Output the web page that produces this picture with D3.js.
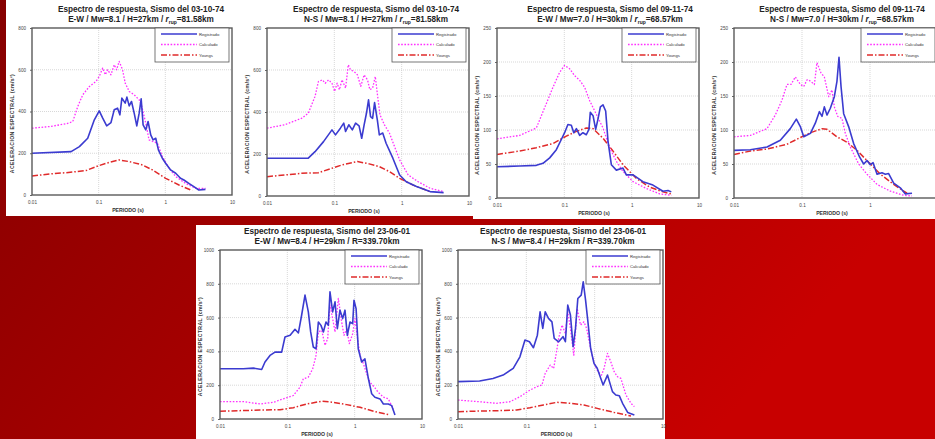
<!DOCTYPE html>
<html>
<head>
<meta charset="utf-8">
<script src="https://cdnjs.cloudflare.com/ajax/libs/d3/7.8.5/d3.min.js"></script>
<style>
html, body { margin: 0; padding: 0; overflow: hidden; background: #a00000; }
svg { display: block; font-family: "Liberation Sans", Arial, sans-serif; }
</style>
</head>
<body>
<svg id="chart" width="935" height="439"></svg>
<script>
'use strict';

// ---- data: [period (s), spectral acceleration (cm/s2)] ----

const periodTicks = [0.01, 0.1, 1, 10];
const periodTickLabels = ['0.01', '0.1', '1', '10'];
const seriesNames = ['Registrado', 'Calculado', 'Youngs'];

const yTicks800 = [0, 200, 400, 600, 800];
const yTicks250 = [0, 50, 100, 150, 200, 250];
const yTicks1000 = [0, 200, 400, 600, 800, 1000];

const titleLines = [
    'Espectro de respuesta, Sismo del 03-10-74',
    'Espectro de respuesta, Sismo del 03-10-74',
    'Espectro de respuesta, Sismo del 09-11-74',
    'Espectro de respuesta, Sismo del 09-11-74',
    'Espectro de respuesta, Sismo del 23-06-01',
    'Espectro de respuesta, Sismo del 23-06-01'
];
const subtitleLines = [
    'E-W / Mw=8.1 / H=27km / ',
    'N-S / Mw=8.1 / H=27km / ',
    'E-W / Mw=7.0 / H=30km / ',
    'N-S / Mw=7.0 / H=30km / ',
    'E-W / Mw=8.4 / H=29km / R=339.70km',
    'N-S / Mw=8.4 / H=29km / R=339.70km'
];
const distanceValues = ['=81.58km', '=81.58km', '=68.57km', '=68.57km', null, null];

// 03-10-74 E-W
const ew74aRegistrado = [[0.01,200],[0.0386,208],[0.0514,232],[0.0685,272],[0.0861,360],[0.102,403],[0.115,368],[0.132,331],[0.153,347],[0.171,408],[0.192,416],[0.208,384],[0.223,464],[0.250,440],[0.265,469],[0.287,427],[0.311,448],[0.341,392],[0.373,331],[0.405,392],[0.434,461],[0.464,336],[0.509,312],[0.551,352],[0.604,288],[0.655,264],[0.718,272],[0.787,216],[0.902,176],[1.01,152],[1.20,120],[1.43,104],[1.69,80],[1.90,72],[2.25,56],[2.68,40],[3.18,24],[4.00,27]];
const ew74aCalculado = [[0.01,320],[0.0184,328],[0.0325,341],[0.0409,352],[0.0486,424],[0.0577,480],[0.0726,520],[0.0912,544],[0.102,568],[0.115,608],[0.126,576],[0.136,600],[0.153,576],[0.171,624],[0.186,600],[0.203,640],[0.228,600],[0.250,536],[0.287,496],[0.341,480],[0.405,456],[0.444,424],[0.509,344],[0.570,264],[0.655,256],[0.760,248],[0.902,184],[1.14,128],[1.43,88],[2.01,56],[2.84,32],[4.00,32]];
const ew74aYoungs = [[0.01,91],[0.0184,101],[0.0325,107],[0.0647,117],[0.0912,136],[0.129,152],[0.203,168],[0.287,160],[0.454,144],[0.640,120],[1.01,80],[1.60,48],[2.53,21]];

// 03-10-74 N-S
const ns74aRegistrado = [[0.01,180],[0.0410,180],[0.0517,211],[0.0691,259],[0.0922,315],[0.104,291],[0.123,323],[0.138,347],[0.147,307],[0.164,339],[0.185,315],[0.207,347],[0.233,334],[0.255,275],[0.277,339],[0.300,394],[0.322,458],[0.345,378],[0.370,370],[0.396,445],[0.435,362],[0.466,291],[0.523,300],[0.587,251],[0.740,180],[0.933,100],[1.17,68],[1.66,45],[2.64,21],[4.20,16]];
const ns74aCalculado = [[0.01,323],[0.0182,339],[0.0326,370],[0.0410,394],[0.0517,474],[0.0580,545],[0.0667,553],[0.0732,537],[0.0822,553],[0.0922,537],[0.101,498],[0.110,537],[0.119,506],[0.130,553],[0.147,514],[0.161,625],[0.174,601],[0.196,593],[0.220,577],[0.247,522],[0.277,577],[0.311,553],[0.337,506],[0.370,514],[0.406,569],[0.440,474],[0.477,386],[0.555,339],[0.659,299],[0.784,235],[0.933,172],[1.25,100],[1.76,68],[2.64,37],[4.20,21]];
const ns74aYoungs = [[0.01,92],[0.0182,100],[0.0326,108],[0.0580,111],[0.0922,132],[0.130,148],[0.220,164],[0.329,153],[0.466,140],[0.659,116],[0.933,84],[1.48,52],[2.64,21]];

// 09-11-74 E-W
const ew74bRegistrado = [[0.01,46],[0.0217,47],[0.0384,48],[0.0482,51],[0.0606,59],[0.0761,71],[0.0902,86],[0.101,96],[0.113,108],[0.127,107],[0.138,96],[0.151,102],[0.169,92],[0.189,96],[0.212,93],[0.232,101],[0.243,126],[0.267,121],[0.292,101],[0.316,116],[0.343,134],[0.375,137],[0.411,128],[0.446,83],[0.499,49],[0.592,41],[0.743,44],[0.834,34],[1.05,34],[1.47,24],[2.07,19],[2.92,10],[3.47,11],[3.88,9]];
const ew74bCalculado = [[0.01,87],[0.0217,92],[0.0384,103],[0.0511,133],[0.0679,163],[0.0853,185],[0.101,195],[0.120,190],[0.142,180],[0.169,173],[0.200,163],[0.238,143],[0.299,123],[0.375,103],[0.471,74],[0.592,54],[0.743,39],[1.05,24],[1.65,14],[2.61,6],[3.88,4]];
const ew74bYoungs = [[0.01,64],[0.0217,69],[0.0384,74],[0.0679,80],[0.107,91],[0.151,98],[0.212,103],[0.267,102],[0.375,88],[0.528,69],[0.743,49],[1.17,29],[1.85,16],[2.92,9],[3.88,6]];

// 09-11-74 N-S
const ns74bRegistrado = [[0.01,70],[0.0174,71],[0.0306,75],[0.0480,85],[0.0673,102],[0.0826,116],[0.0945,105],[0.106,90],[0.133,95],[0.157,110],[0.180,127],[0.197,120],[0.213,134],[0.233,122],[0.261,132],[0.299,149],[0.327,172],[0.350,207],[0.375,164],[0.410,124],[0.485,105],[0.575,80],[0.705,60],[0.807,50],[0.904,55],[1.01,49],[1.11,52],[1.27,35],[1.50,37],[1.68,35],[1.88,36],[2.23,22],[2.79,15],[3.31,6],[4.15,7]];
const ns74bCalculado = [[0.01,90],[0.0174,92],[0.0306,102],[0.0405,122],[0.0508,144],[0.0601,167],[0.0689,167],[0.0798,178],[0.0945,167],[0.106,164],[0.119,174],[0.133,172],[0.152,167],[0.166,199],[0.190,184],[0.213,178],[0.247,149],[0.276,159],[0.299,134],[0.335,120],[0.387,117],[0.434,95],[0.514,75],[0.681,50],[0.904,35],[1.27,20],[1.99,10],[3.13,4],[4.15,3]];
const ns74bYoungs = [[0.01,64],[0.0174,69],[0.0306,72],[0.0601,79],[0.0945,89],[0.133,96],[0.197,102],[0.233,101],[0.327,90],[0.459,82],[0.644,70],[0.904,55],[1.42,35],[2.23,20],[3.50,7]];

// 23-06-01 E-W
const ew01Registrado = [[0.01,297],[0.0222,297],[0.0313,301],[0.0416,293],[0.0466,337],[0.0553,376],[0.0656,396],[0.0824,396],[0.0923,485],[0.110,495],[0.130,531],[0.146,509],[0.163,614],[0.183,733],[0.205,634],[0.222,515],[0.243,426],[0.267,416],[0.289,574],[0.316,554],[0.343,515],[0.375,574],[0.406,554],[0.430,752],[0.471,634],[0.511,693],[0.553,535],[0.605,644],[0.663,594],[0.718,644],[0.778,495],[0.853,574],[0.934,564],[0.977,703],[1.05,653],[1.13,416],[1.27,337],[1.42,356],[1.60,238],[1.79,149],[2.00,129],[2.38,119],[2.67,89],[3.16,89],[3.55,79],[3.97,24]];
const ew01Calculado = [[0.01,103],[0.0222,103],[0.0393,89],[0.0620,99],[0.0873,119],[0.123,139],[0.154,188],[0.173,238],[0.205,248],[0.238,297],[0.267,376],[0.289,515],[0.324,525],[0.363,436],[0.397,475],[0.430,673],[0.471,594],[0.511,515],[0.572,713],[0.641,574],[0.695,495],[0.761,535],[0.833,446],[0.934,505],[1.01,594],[1.07,515],[1.20,376],[1.35,327],[1.51,267],[1.69,218],[2.00,184],[2.24,158],[2.67,129],[3.16,119],[3.75,59]];
const ew01Youngs = [[0.01,46],[0.0222,50],[0.0393,53],[0.0778,55],[0.123,67],[0.194,89],[0.324,105],[0.482,99],[0.761,85],[1.20,69],[2.00,44],[3.35,24]];

// 23-06-01 N-S
const ns01Registrado = [[0.01,221],[0.0207,225],[0.0325,240],[0.0457,260],[0.0643,300],[0.0806,368],[0.0955,467],[0.111,457],[0.127,422],[0.145,496],[0.159,634],[0.174,536],[0.189,634],[0.211,595],[0.237,575],[0.256,477],[0.297,457],[0.344,487],[0.373,457],[0.404,674],[0.442,615],[0.484,428],[0.524,536],[0.567,713],[0.635,733],[0.680,812],[0.736,703],[0.797,575],[0.873,418],[0.978,329],[1.09,300],[1.23,240],[1.33,201],[1.54,260],[1.82,162],[2.04,142],[2.29,138],[2.56,93],[3.04,39],[3.81,24]];
const ns01Calculado = [[0.01,112],[0.0207,102],[0.0365,93],[0.0574,102],[0.0806,132],[0.113,171],[0.142,191],[0.169,201],[0.189,270],[0.224,319],[0.251,299],[0.274,388],[0.297,477],[0.333,556],[0.373,506],[0.404,634],[0.442,536],[0.495,378],[0.555,654],[0.621,556],[0.696,575],[0.762,536],[0.853,437],[0.978,329],[1.12,280],[1.26,260],[1.37,299],[1.54,388],[1.72,339],[1.93,280],[2.16,250],[2.42,240],[2.87,142],[3.40,93],[3.81,73]];
const ns01Youngs = [[0.01,43],[0.0207,47],[0.0365,49],[0.0720,53],[0.113,67],[0.178,83],[0.281,99],[0.442,93],[0.696,83],[1.09,63],[1.93,39],[3.40,18]];


// ---- layout ----

const PAGE_W = 935;

const panels = [
    { left: 32,  right: 232, top: 28,  bottom: 195, titleX: 141, titleY: 12,  yTicks: yTicks800,  series: [ew74aRegistrado, ew74aCalculado, ew74aYoungs] },
    { left: 267, right: 469, top: 28,  bottom: 196, titleX: 376, titleY: 12,  yTicks: yTicks800,  series: [ns74aRegistrado, ns74aCalculado, ns74aYoungs] },
    { left: 497, right: 699, top: 28,  bottom: 198, titleX: 610, titleY: 12,  yTicks: yTicks250,  series: [ew74bRegistrado, ew74bCalculado, ew74bYoungs] },
    { left: 734, right: 938, top: 28,  bottom: 198, titleX: 842, titleY: 12,  yTicks: yTicks250,  series: [ns74bRegistrado, ns74bCalculado, ns74bYoungs] },
    { left: 220, right: 422, top: 250, bottom: 419, titleX: 327, titleY: 234, yTicks: yTicks1000, series: [ew01Registrado, ew01Calculado, ew01Youngs] },
    { left: 458, right: 663, top: 250, bottom: 419, titleX: 563, titleY: 234, yTicks: yTicks1000, series: [ns01Registrado, ns01Calculado, ns01Youngs] }
];

const seriesStyles = [
    { color: '#3b3bd0', width: 1.6, dash: null },
    { color: '#ff30ff', width: 1.3, dash: '1.6,1.6' },
    { color: '#e02a2a', width: 1.5, dash: '6,2,1.5,2' }
];


var Panel = function( svg, cfg, index ) {
    var self = this;

    self.svg = svg;
    self.cfg = cfg;
    self.index = index;

    self.x = d3.scaleLog().domain([ 0.01, 10 ]).range([ cfg.left, cfg.right ]);
    self.y = d3.scaleLinear().domain([ 0, cfg.yTicks[ cfg.yTicks.length - 1 ] ]).range([ cfg.bottom, cfg.top ]);

    self.g = svg.append('g').attr('class', 'panel');
};

Panel.prototype.drawTitle = function() {
    var cfg = this.cfg;
    var i = this.index;

    this.g.append('text')
        .attr('x', cfg.titleX).attr('y', cfg.titleY)
        .attr('text-anchor', 'middle')
        .attr('font-size', '8.2px').attr('font-weight', 'bold').attr('fill', '#222')
        .text( titleLines[i] );

    var sub = this.g.append('text')
        .attr('x', cfg.titleX).attr('y', cfg.titleY + 10)
        .attr('text-anchor', 'middle')
        .attr('font-size', '8.2px').attr('font-weight', 'bold').attr('fill', '#222');

    sub.append('tspan').text( subtitleLines[i] );

    if ( distanceValues[i] !== null ) {
        sub.append('tspan').attr('font-style', 'italic').text('r');
        sub.append('tspan').attr('font-size', '5px').attr('dy', 2).text('rup');
        sub.append('tspan').attr('dy', -2).text( distanceValues[i] );
    }
};

Panel.prototype.drawGrid = function() {
    var self = this;
    var cfg = self.cfg;
    var grid = self.g.append('g').attr('class', 'grid')
        .attr('stroke', '#bdbdbd').attr('stroke-width', 0.6).attr('stroke-dasharray', '1,1');

    grid.selectAll('.vx')
        .data( periodTicks.slice(1, -1) )
        .enter()
            .append('line')
            .attr('x1', function( d ) { return self.x(d); })
            .attr('x2', function( d ) { return self.x(d); })
            .attr('y1', cfg.top).attr('y2', cfg.bottom);

    grid.selectAll('.hy')
        .data( cfg.yTicks.slice(1, -1) )
        .enter()
            .append('line')
            .attr('x1', cfg.left).attr('x2', cfg.right)
            .attr('y1', function( d ) { return self.y(d); })
            .attr('y2', function( d ) { return self.y(d); });
};

Panel.prototype.drawAxes = function() {
    var self = this;
    var cfg = self.cfg;

    // the last panel runs off the page, so its "10" label is not shown
    var shownTicks = periodTicks.filter( function( d ) { return self.x(d) < PAGE_W - 6; });

    self.g.append('g')
        .attr('transform', 'translate(0,' + cfg.bottom + ')')
        .call( d3.axisBottom( self.x ).tickValues( shownTicks ).tickSize(0).tickPadding(6)
                 .tickFormat( function( d ) { return periodTickLabels[ periodTicks.indexOf(d) ]; }) )
        .call( function( a ) {
            a.select('.domain').remove();
            a.selectAll('text').attr('font-size', '4.6px').attr('fill', '#444').attr('font-family', null);
        });

    self.g.append('g')
        .attr('transform', 'translate(' + cfg.left + ',0)')
        .call( d3.axisLeft( self.y ).tickValues( cfg.yTicks ).tickSize(2).tickPadding(4).tickFormat( d3.format('d') ) )
        .call( function( a ) {
            a.select('.domain').remove();
            a.selectAll('line').attr('stroke', '#666');
            a.selectAll('text').attr('font-size', '4.6px').attr('fill', '#444').attr('font-family', null);
        });

    self.g.append('rect')
        .attr('x', cfg.left).attr('y', cfg.top)
        .attr('width', cfg.right - cfg.left).attr('height', cfg.bottom - cfg.top)
        .attr('fill', 'none').attr('stroke', '#5a5a5a').attr('stroke-width', 1.4);

    self.g.append('text')
        .attr('x', (cfg.left + cfg.right) / 2 - 4).attr('y', cfg.bottom + 17)
        .attr('text-anchor', 'middle')
        .attr('font-size', '5.2px').attr('font-weight', 'bold').attr('fill', '#333')
        .text('PERIODO (s)');

    self.g.append('text')
        .attr('transform', 'translate(' + (cfg.left - 18) + ',' + ((cfg.top + cfg.bottom) / 2 + 12) + ') rotate(-90)')
        .attr('text-anchor', 'middle')
        .attr('font-size', '5.2px').attr('font-weight', 'bold').attr('fill', '#333')
        .attr('letter-spacing', '0.35px')
        .text('ACELERACION ESPECTRAL (cm/s²)');
};

Panel.prototype.drawSeries = function() {
    var self = this;
    var line = d3.line()
        .x( function( d ) { return self.x( d[0] ); })
        .y( function( d ) { return self.y( d[1] ); });

    // youngs first, registrado on top
    [ 2, 1, 0 ].forEach( function( k ) {
        var st = seriesStyles[k];
        self.g.append('path')
            .datum( self.cfg.series[k] )
            .attr('d', line)
            .attr('fill', 'none')
            .attr('stroke', st.color)
            .attr('stroke-width', st.width)
            .attr('stroke-dasharray', st.dash)
            .attr('stroke-linejoin', 'round');
    });
};

Panel.prototype.drawLegend = function() {
    var cfg = this.cfg;
    var bx = cfg.right - 77;
    var by = cfg.top;
    var lg = this.g.append('g').attr('class', 'legend');

    lg.append('rect')
        .attr('x', bx).attr('y', by).attr('width', 74).attr('height', 34)
        .attr('fill', '#fff').attr('stroke', '#555').attr('stroke-width', 0.8);

    lg.selectAll('.entry')
        .data( seriesNames )
        .enter()
            .append('g')
            .attr('class', 'entry')
            .attr('transform', function( d, i ) { return 'translate(' + bx + ',' + (by + 6 + i * 10.5) + ')'; })
            .each( function( d, i ) {
                var e = d3.select(this);
                var st = seriesStyles[i];
                e.append('line')
                    .attr('x1', 6).attr('x2', 42).attr('y1', 0).attr('y2', 0)
                    .attr('stroke', st.color).attr('stroke-width', st.width)
                    .attr('stroke-dasharray', st.dash);
                e.append('text')
                    .attr('x', 44).attr('y', 1.5)
                    .attr('font-size', '4.2px').attr('fill', '#333')
                    .text( d );
            });
};

Panel.prototype.draw = function() {
    this.drawTitle();
    this.drawGrid();
    this.drawSeries();
    this.drawAxes();
    this.drawLegend();
};


function drawSlide() {
    var svg = d3.select('#chart');

    var defs = svg.append('defs');
    var grad = defs.append('linearGradient')
        .attr('id', 'bg').attr('x1', '0').attr('y1', '0').attr('x2', '1').attr('y2', '0.4');
    grad.append('stop').attr('offset', '0').attr('stop-color', '#860000');
    grad.append('stop').attr('offset', '1').attr('stop-color', '#c80000');

    svg.append('rect').attr('width', PAGE_W).attr('height', 439).attr('fill', 'url(#bg)');

    // white sheets behind the charts
    svg.append('rect').attr('x', 6).attr('y', 0).attr('width', 467).attr('height', 216).attr('fill', '#fff');
    svg.append('rect').attr('x', 473).attr('y', 0).attr('width', 462).attr('height', 219).attr('fill', '#fff');
    svg.append('rect').attr('x', 196).attr('y', 225).attr('width', 469).attr('height', 214).attr('fill', '#fff');

    panels.forEach( function( cfg, i ) {
        new Panel( svg, cfg, i ).draw();
    });
}

drawSlide();
</script>
</body>
</html>
